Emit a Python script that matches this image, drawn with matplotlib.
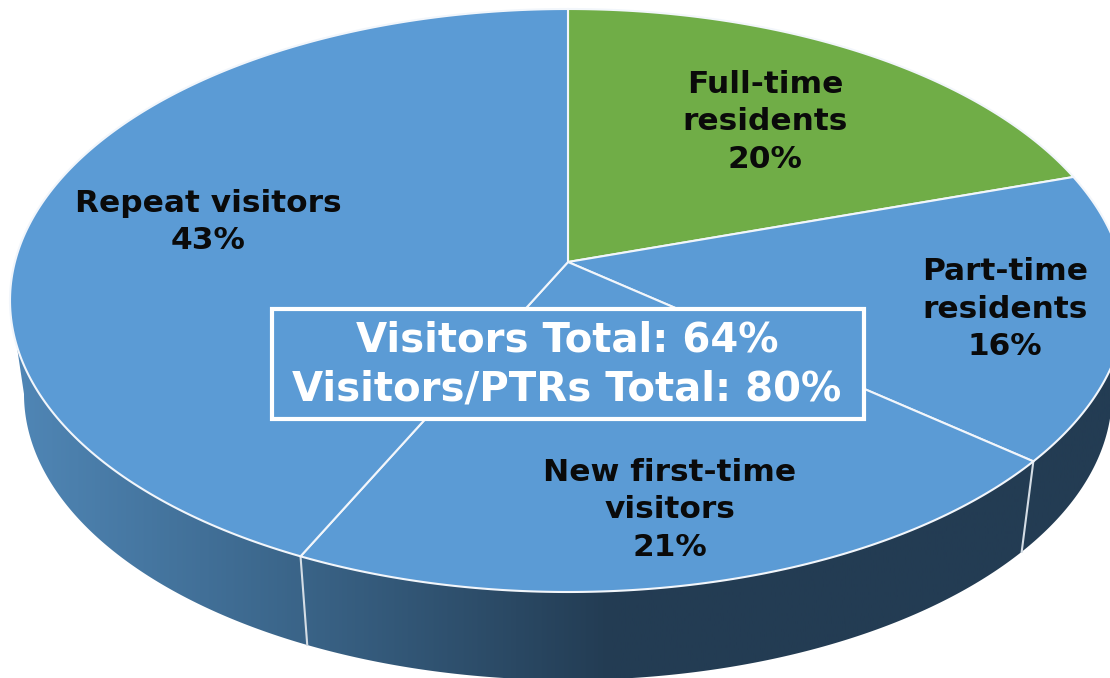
import numpy as np
import matplotlib
matplotlib.use("Agg")
import matplotlib.pyplot as plt
from matplotlib.colors import LinearSegmentedColormap
from matplotlib.patches import Polygon, Rectangle

# slices, clockwise from 12 o'clock
names = ["Full-time\nresidents", "Part-time\nresidents",
         "New first-time\nvisitors", "Repeat visitors"]
shares = [20, 16, 21, 43]
colors = ["#70ad47", "#5b9bd5", "#5b9bd5", "#5b9bd5"]
box_text = "Visitors Total: 64%\nVisitors/PTRs Total: 80%"

# label centres in pixels
label_xy = [(765, 122), (1005, 309), (670, 510), (208, 222)]

W, H = 1110, 678
# top face ellipse and the smaller rim ellipse under it
CX, CY, RX, RY = 568, 300.5, 558, 291.5
CY2, RX2, RY2 = 394, 544, 286
APEX_Y = 262
k = (CY - APEX_Y) / RY   # perspective shift of the pie centre


def rim(frac, cy=CY, rx=RX, ry=RY):
    """Pixel position on a rim for a fraction of the pie, with perspective."""
    a = 2 * np.pi * np.asarray(frac)
    u, v = np.sin(a), np.cos(a)
    d = 1 + k * v
    return CX + rx * u * np.sqrt(1 - k * k) / d, cy - ry * (v + k) / d


fig = plt.figure(figsize=(W / 100, H / 100), dpi=100)
ax = fig.add_axes([0, 0, 1, 1])

# side wall, a horizontal gradient clipped to the band under the top face
t = np.linspace(0, 2 * np.pi, 721)
low = t[(t >= np.pi / 2) & (t <= 3 * np.pi / 2)]
xa = CX + RX * np.sin(low)
ya = CY - RY * np.cos(low)
xb = CX + RX2 * np.sin(low)
yb = CY2 - RY2 * np.cos(low)
wall = Polygon(np.r_[np.c_[xa, ya], np.c_[xb, yb][::-1]], closed=True,
               fc="none", ec="none", transform=ax.transData)
ax.add_patch(wall)
cmap = LinearSegmentedColormap.from_list("wall", [
    (0.0, "#5188b8"), (0.27, "#3a6488"), (0.55, "#233c53"), (1.0, "#233c53")])
im = ax.imshow(np.linspace(0, 1, 512)[None, :], cmap=cmap, vmin=0, vmax=1,
               extent=(0, W, H, 0), aspect="auto")
im.set_clip_path(wall)

# top face
cum = np.r_[0, np.cumsum(shares)] / sum(shares)
for i, c in enumerate(colors):
    fr = np.linspace(cum[i], cum[i + 1], 200)
    x, y = rim(fr)
    ax.fill(np.r_[CX, x], np.r_[APEX_Y, y], fc=c, ec="#f2f6fb", lw=1.5,
            joinstyle="round", zorder=3)

# slice edges carried down the wall
for f in cum[1:-1]:
    x0, y0 = rim(f)
    if y0 > CY:
        x1, y1 = rim(f, CY2, RX2, RY2)
        ax.plot([x0, x1], [y0, y1], color="#d5dde5", lw=1.5, zorder=2.5)

for name, s, (lx, ly) in zip(names, shares, label_xy):
    ax.text(lx, ly, f"{name}\n{s}%", ha="center", va="center", fontsize=22.5,
            fontweight="bold", linespacing=1.36, color="#0a0a0a", zorder=5)

ax.add_patch(Rectangle((272, 309), 592, 110, fc="#5b9bd5", ec="white", lw=3,
                       zorder=4))
ax.text(567, 365, box_text, ha="center", va="center", fontsize=29,
        fontweight="bold", linespacing=1.3, color="white", zorder=5)

ax.set_xlim(0, W)
ax.set_ylim(H, 0)
ax.axis("off")
fig.savefig("out.png", dpi=100)
